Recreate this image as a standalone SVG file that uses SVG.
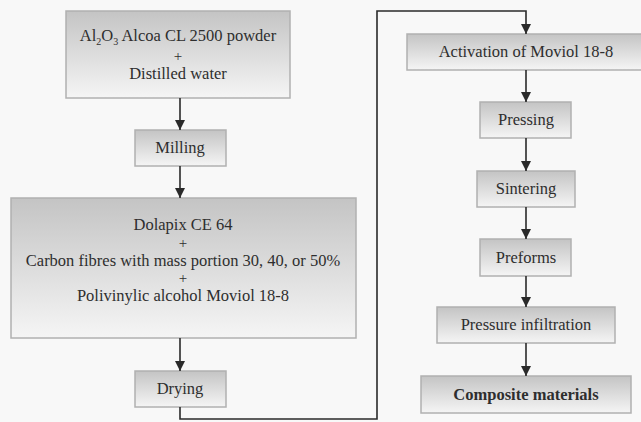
<svg xmlns="http://www.w3.org/2000/svg" width="641" height="422" viewBox="0 0 641 422">
<defs>
<linearGradient id="g" x1="0" y1="0" x2="0" y2="1">
<stop offset="0" stop-color="#c4c4c4"/>
<stop offset="1" stop-color="#f5f5f5"/>
</linearGradient>
<marker id="ah" markerUnits="userSpaceOnUse" markerWidth="10" markerHeight="12" refX="10" refY="5" orient="auto">
<path d="M0,0 L10,5 L0,10 z" fill="#2a2a2a"/>
</marker>
<style>
.box{fill:url(#g);stroke:#b0b0b0;stroke-width:1.5}
.t{font-family:'Liberation Serif','Times New Roman',serif;font-size:16.5px;fill:#2e2e2e;text-anchor:middle}
.p{font-size:15px}
.b{font-weight:bold}
.c{fill:none;stroke:#2a2a2a;stroke-width:1.6}
</style>
</defs>
<rect width="641" height="422" fill="#f8f8f8"/>
<g id="n1"><rect class="box" x="66" y="11" width="224" height="87"/>
<text class="t" x="178" y="41">Al<tspan font-size="10" dy="4">2</tspan><tspan dy="-4">O</tspan><tspan font-size="10" dy="4">3</tspan><tspan dy="-4"> Alcoa CL 2500 powder</tspan></text>
<text class="t p" x="178" y="61">+</text>
<text class="t" x="178" y="79">Distilled water</text></g>
<g id="n2"><rect class="box" x="135" y="130" width="91" height="36"/><text class="t" x="180" y="153">Milling</text></g>
<g id="n3"><rect class="box" x="11" y="198" width="345" height="140"/>
<text class="t" x="183" y="230">Dolapix CE 64</text>
<text class="t p" x="183" y="248">+</text>
<text class="t" x="183" y="266">Carbon fibres with mass portion 30, 40, or 50%</text>
<text class="t p" x="183" y="283">+</text>
<text class="t" x="183" y="301">Polivinylic alcohol Moviol 18-8</text></g>
<g id="n4"><rect class="box" x="135" y="371" width="91" height="36"/><text class="t" x="180" y="394">Drying</text></g>
<g id="n5"><rect class="box" x="407" y="34" width="238" height="36"/><text class="t" x="526" y="57">Activation of Moviol 18-8</text></g>
<g id="n6"><rect class="box" x="480" y="102" width="91" height="36"/><text class="t" x="526" y="125">Pressing</text></g>
<g id="n7"><rect class="box" x="477" y="171" width="98" height="36"/><text class="t" x="526" y="194">Sintering</text></g>
<g id="n8"><rect class="box" x="480" y="239" width="91" height="37"/><text class="t" x="526" y="263">Preforms</text></g>
<g id="n9"><rect class="box" x="437" y="307" width="178" height="36"/><text class="t" x="526" y="330">Pressure infiltration</text></g>
<g id="n10"><rect class="box" x="421" y="376" width="210" height="37"/><text class="t b" x="526" y="400">Composite materials</text></g>
<g id="connectors">
<path class="c" d="M180,98 V130" marker-end="url(#ah)"/>
<path class="c" d="M180,166 V198" marker-end="url(#ah)"/>
<path class="c" d="M180,338 V371" marker-end="url(#ah)"/>
<path class="c" d="M180,407 V419 H377 V11 H526 V34" marker-end="url(#ah)"/>
<path class="c" d="M526,70 V102" marker-end="url(#ah)"/>
<path class="c" d="M526,138 V171" marker-end="url(#ah)"/>
<path class="c" d="M526,207 V239" marker-end="url(#ah)"/>
<path class="c" d="M526,276 V307" marker-end="url(#ah)"/>
<path class="c" d="M526,343 V376" marker-end="url(#ah)"/>
</g>
</svg>
